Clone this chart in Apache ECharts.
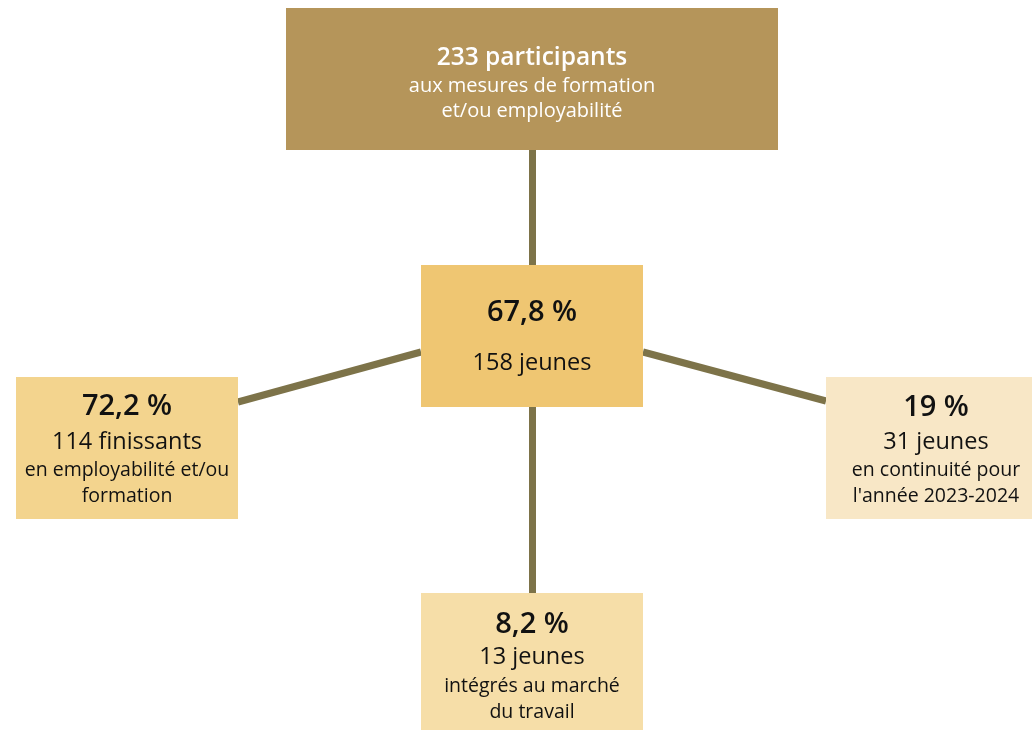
<!DOCTYPE html>
<html>
<head>
<meta charset="utf-8">
<script src="https://cdn.jsdelivr.net/npm/echarts@6/dist/echarts.min.js"></script>
<style>
  html, body { margin: 0; padding: 0; background: #ffffff; }
  #chart { width: 1032px; height: 730px; }
</style>
</head>
<body>
<div id="chart"></div>
<script>
// Participants' pathway: one total, one follow-up group and three outcomes.
const nodeKeys = ['total', 'suivi', 'finissants', 'continuite', 'marche'];
const percentLabels = ['', '67,8 %', '72,2 %', '19 %', '8,2 %'];
const counts = [233, 158, 114, 31, 13];
const countUnits = ['participants', 'jeunes', 'finissants', 'jeunes', 'jeunes'];
const descriptions = [
  ['aux mesures de formation', 'et/ou employabilité'],
  [],
  ['en employabilité et/ou', 'formation'],
  ['en continuité pour', "l'année 2023-2024"],
  ['intégrés au marché', 'du travail']
];
// parent -> child connections
const links = [['total', 'suivi'], ['suivi', 'finissants'], ['suivi', 'continuite'], ['suivi', 'marche']];

// ---- layout (page units, y grows downward) ----
const boxes = {
  total:      { x0: 286, y0: 8,   x1: 778,  y1: 150, fill: '#B5955A', ink: '#ffffff' },
  suivi:      { x0: 421, y0: 265, x1: 643,  y1: 407, fill: '#EFC672', ink: '#111111' },
  finissants: { x0: 16,  y0: 377, x1: 238,  y1: 519, fill: '#F3D48E', ink: '#111111' },
  continuite: { x0: 826, y0: 377, x1: 1046, y1: 519, fill: '#F8E7C6', ink: '#111111' },
  marche:     { x0: 421, y0: 593, x1: 643,  y1: 740, fill: '#F6DEA8', ink: '#111111' }
};
// text line centres (y) per box
const textRows = {
  total:      [58, 86, 111],
  suivi:      [313, 363],
  finissants: [407, 442, 470, 496],
  continuite: [408, 442, 470, 496],
  marche:     [625, 657, 686, 712]
};
// connector end points
const anchors = {
  'total-suivi':      [[532, 150], [532, 265]],
  'suivi-finissants': [[421, 352], [238, 402]],
  'suivi-continuite': [[643, 352], [826, 401]],
  'suivi-marche':     [[532, 407], [532, 593]]
};

const FONT = '"Open Sans", Lato, sans-serif';

const boxData = nodeKeys.map((k, i) => {
  const b = boxes[k];
  return [b.x0, b.y0, b.x1, b.y1, i];
});

const lineData = links.map(([a, b]) => ({ coords: anchors[a + '-' + b] }));

function renderBox(params, api) {
  const i = api.value(4);
  const key = nodeKeys[i];
  const b = boxes[key];
  const p0 = api.coord([api.value(0), api.value(1)]);
  const p1 = api.coord([api.value(2), api.value(3)]);
  const cx = (p0[0] + Math.min(p1[0], params.coordSys.x + params.coordSys.width + 14)) / 2;
  const rows = textRows[key];
  const lines = [];
  if (i === 0) {
    lines.push({ t: counts[i] + ' ' + countUnits[i], font: '600 24.5px ' + FONT });
    descriptions[i].forEach(d => lines.push({ t: d, font: '500 20px ' + FONT }));
  } else {
    lines.push({ t: percentLabels[i], font: '600 29px ' + FONT });
    lines.push({ t: counts[i] + ' ' + countUnits[i], font: '500 23.5px ' + FONT });
    descriptions[i].forEach(d => lines.push({ t: d, font: '500 19.5px ' + FONT }));
  }
  const children = [{
    type: 'rect',
    shape: { x: p0[0], y: p0[1], width: p1[0] - p0[0], height: p1[1] - p0[1] },
    style: { fill: b.fill }
  }];
  lines.forEach((ln, j) => {
    const yy = api.coord([0, rows[j]])[1];
    children.push({
      type: 'text',
      x: cx, y: yy,
      style: { text: ln.t, font: ln.font, fill: b.ink, align: 'center', verticalAlign: 'middle' }
    });
  });
  return { type: 'group', children };
}

const chart = echarts.init(document.getElementById('chart'), null, { renderer: 'canvas' });
chart.setOption({
  animation: false,
  backgroundColor: '#ffffff',
  grid: { left: 0, right: 0, top: 0, bottom: 0 },
  xAxis: { type: 'value', min: 0, max: 1032, show: false },
  yAxis: { type: 'value', min: 0, max: 730, inverse: true, show: false },
  series: [
    {
      type: 'lines',
      coordinateSystem: 'cartesian2d',
      z: 1,
      silent: true,
      lineStyle: { color: '#7D7349', width: 7, opacity: 1, curveness: 0 },
      data: lineData
    },
    {
      type: 'custom',
      z: 2,
      silent: true,
      clip: true,
      renderItem: renderBox,
      data: boxData
    }
  ]
});
</script>
</body>
</html>
